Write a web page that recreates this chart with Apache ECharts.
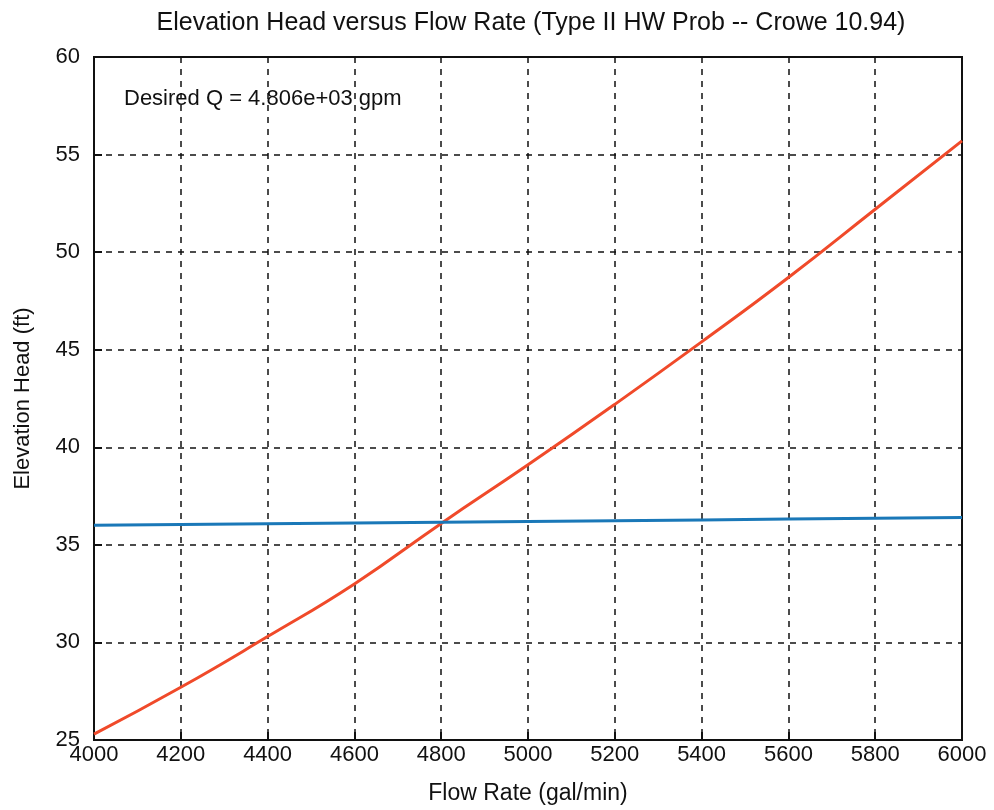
<!DOCTYPE html>
<html>
<head>
<meta charset="utf-8">
<script src="https://cdn.jsdelivr.net/npm/echarts@6/dist/echarts.min.js"></script>
<style>
html,body{margin:0;padding:0;background:#fff;}
#container{width:994px;height:810px;}
</style>
</head>
<body>
<div id="container"></div>
<script>
var flowRate = [4000, 4200, 4400, 4600, 4800, 5000, 5200, 5400, 5600, 5800, 6000];
var headCurve = [25.3, 27.7, 30.3, 33.0, 36.1, 39.1, 42.2, 45.4, 48.7, 52.2, 55.7]; // red
var headLine = [36.0, 36.04, 36.08, 36.12, 36.16, 36.2, 36.24, 36.28, 36.32, 36.36, 36.4]; // blue
var desiredText = 'Desired Q = 4.806e+03 gpm';

var myChart = echarts.init(document.getElementById('container'));
var font = 'Liberation Sans, Arial, sans-serif';

function pairs(ys) {
	var out = [];
	for (var i = 0; i < flowRate.length; i++) out.push([flowRate[i], ys[i]]);
	return out;
}

myChart.setOption({
	animation: false,
	title: {
		text: 'Elevation Head versus Flow Rate (Type II HW Prob -- Crowe 10.94)',
		left: 526, top: 6, textAlign: 'center',
		textStyle: {fontFamily: font, fontSize: 25, fontWeight: 'normal', color: '#111'}
	},
	graphic: [{
		type: 'text', left: 124, top: 88,
		style: {text: desiredText, fontFamily: font, fontSize: 22, fill: '#111'}
	}],
	grid: {left: 94, right: 32, top: 57, bottom: 68, show: true, borderColor: '#111', borderWidth: 2},
	xAxis: {
		type: 'value', min: 4000, max: 6000, interval: 200,
		name: 'Flow Rate (gal/min)', nameLocation: 'middle', nameGap: 42,
		nameTextStyle: {fontFamily: font, fontSize: 23, color: '#111'},
		axisLine: {show: false},
		axisTick: {inside: true, length: 8, lineStyle: {color: '#111', width: 2}},
		axisLabel: {fontFamily: font, fontSize: 22, color: '#111', margin: 4,
			formatter: function (v) { return String(v); }},
		splitLine: {show: true, lineStyle: {color: '#111', type: [6, 6], width: 1.5}}
	},
	yAxis: {
		type: 'value', min: 25, max: 60, interval: 5,
		name: 'Elevation Head (ft)', nameLocation: 'middle', nameGap: 60,
		nameTextStyle: {fontFamily: font, fontSize: 22, color: '#111'},
		axisLine: {show: false},
		axisTick: {inside: true, length: 8, lineStyle: {color: '#111', width: 2}},
		axisLabel: {fontFamily: font, fontSize: 22, color: '#111', margin: 14},
		splitLine: {show: true, lineStyle: {color: '#111', type: [6, 6], width: 1.5}}
	},
	series: [
		{
			name: 'curve', type: 'line', smooth: true, symbol: 'none',
			lineStyle: {color: '#f04a2a', width: 3},
			data: pairs(headCurve)
		},
		{
			name: 'line', type: 'line', symbol: 'none',
			lineStyle: {color: '#1a78b8', width: 3},
			data: pairs(headLine)
		}
	]
});
</script>
</body>
</html>
